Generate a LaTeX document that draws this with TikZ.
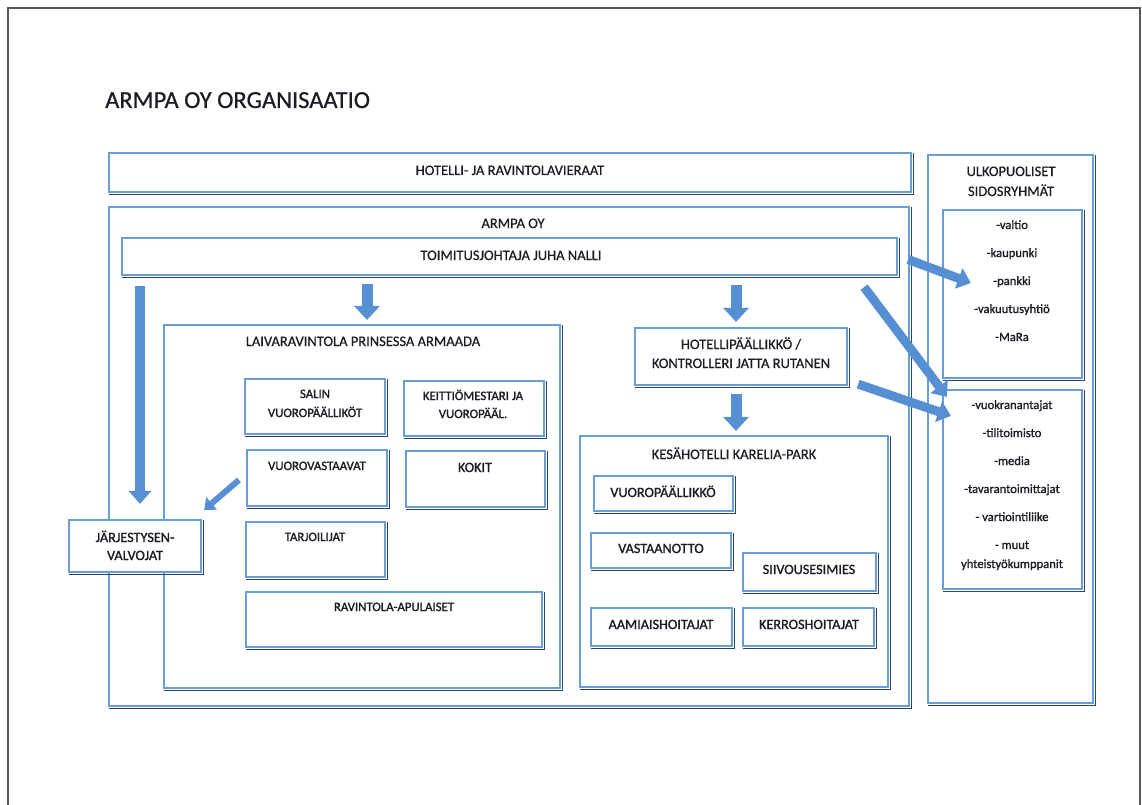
\documentclass[tikz,border=0pt]{standalone}
\usepackage{fontspec}
\setmainfont{Carlito}
\newfontfamily\hdfont{Carlito}[FakeBold=0.6]
\newfontfamily\hvfont{Carlito}[FakeBold=1.3]
\usetikzlibrary{arrows.meta,fit,calc}
\definecolor{boxblue}{RGB}{104,158,216}
\definecolor{shadowc}{RGB}{48,68,98}
\definecolor{arrowblue}{RGB}{86,143,210}
\definecolor{framec}{RGB}{88,88,88}
\definecolor{txt}{RGB}{28,28,38}
\tikzset{
  bx/.style={draw=boxblue, line width=2.2pt, fill=white, inner sep=0pt, rectangle},
  shd/.style={draw=shadowc, line width=1.6pt},
  lbl/.style={anchor=base, inner sep=0pt, text=txt, font=\hdfont\fontsize{14.5}{17}\selectfont},
  hv/.style={anchor=base, inner sep=0pt, text=txt, font=\hvfont\fontsize{14.2}{17}\selectfont},
  sml/.style={anchor=base, inner sep=0pt, text=txt, font=\hvfont\fontsize{12.8}{15}\selectfont},
  lst/.style={anchor=base, inner sep=0pt, text=txt, font=\hvfont\fontsize{12.6}{15}\selectfont},
  blk/.style={draw=arrowblue, line width=11pt, -{Triangle[width=25pt,length=14pt]}},
  blkl/.style={draw=arrowblue, line width=10pt, -{Triangle[width=22pt,length=13pt]}},
  blkd/.style={draw=arrowblue, line width=9pt, -{Triangle[width=21pt,length=13pt]}},
  blks/.style={draw=arrowblue, line width=6pt, -{Triangle[width=16pt,length=10pt]}},
}
\newcommand\bxx[5]{%
  \node[bx, fit={(#2,#3) (#4,#5)}] (#1) {};
  \draw[shd] ([xshift=1.5pt,yshift=-1pt]#1.north east) -- ([xshift=1.5pt,yshift=-1.5pt]#1.south east) -- ([xshift=1pt,yshift=-1.5pt]#1.south west);
}
\begin{document}
\begin{tikzpicture}[x=1pt,y=-1pt]
\useasboundingbox (0,0) rectangle (1142,805);
\fill[white] (0,0) rectangle (1142,805);
\draw[framec, line width=2pt] (8,805) -- (8,8) -- (1140,8) -- (1140,805);
\node[anchor=base west, inner sep=0pt, text=txt, font=\hdfont\fontsize{24.5}{28}\selectfont] (title) at (105,108) {ARMPA OY ORGANISAATIO};

\bxx{hot}{109}{153}{911}{192}
\bxx{ulko}{928}{155}{1093}{703}
\bxx{ul1}{943}{210}{1082}{378}
\bxx{ul2}{943}{390}{1082}{589}
\bxx{armpa}{109}{207}{909}{706}
\bxx{toimi}{122}{238}{897}{275}
\bxx{laiva}{164}{325}{560}{688}
\bxx{salin}{245}{379}{385}{434}
\bxx{keitt}{404}{381}{544}{436}
\bxx{vuorov}{247}{450}{387}{506}
\bxx{kokit}{406}{451}{545}{507}
\bxx{tarj}{246}{522}{385}{577}
\bxx{ravap}{246}{592}{542}{647}
\bxx{hotpaa}{635}{328}{847}{385}
\bxx{kesa}{580}{436}{888}{687}
\bxx{vuorop}{594}{476}{733}{511}
\bxx{vast}{591}{533}{731}{568}
\bxx{siiv}{743}{553}{876}{591}
\bxx{aam}{591}{608}{732}{646}
\bxx{kerr}{743}{608}{874}{646}
\bxx{jarj}{69}{520}{201}{572}

% arrows
\draw[blk] ($(toimi.south -| laiva.north)+(5,8)$) -- ($(laiva.north)+(5,-4)$);
\draw[blk] ($(toimi.south -| hotpaa.north)+(-5,9)$) -- ($(hotpaa.north)+(-5,-5)$);
\draw[blk] ($(hotpaa.south)+(-5,8)$) -- ($(kesa.north -| hotpaa.south)+(-5,-4)$);
\draw[blkl] ($(toimi.south -| jarj.north)+(5,10)$) -- ($(jarj.north)+(5,-15)$);
\draw[blks] ($(vuorov.west)+(-7,2)$) -- ($(jarj.north east)+(2,-9)$);
\draw[blkd] ($(toimi.east)+(10,3)$) -- ($(ul1.west)+(29,-11)$);
\draw[blkd] ($(toimi.south east)+(-34,11)$) -- ($(ul2.north west)+(5,8)$);
\draw[blkd] ($(hotpaa.south east)+(10,-2)$) -- ($(ul2.north west)+(9,27)$);

% texts
\node[lbl] (t-hot) at (510,175) {HOTELLI- JA RAVINTOLAVIERAAT};
\node[lbl] (t-armpa) at (513,228) {ARMPA OY};
\node[lbl] (t-toimi) at (511,260) {TOIMITUSJOHTAJA JUHA NALLI};
\node[lbl] (t-ulko1) at (1011,176) {ULKOPUOLISET};
\node[lbl] (t-ulko2) at (1011,196) {SIDOSRYHMÄT};
\node[lst] (t-valtio) at (1012,229) {-valtio};
\node[lst] (t-kaup) at (1012,257) {-kaupunki};
\node[lst] (t-pankki) at (1012,285) {-pankki};
\node[lst] (t-vakuu) at (1012,313) {-vakuutusyhtiö};
\node[lst] (t-mara) at (1012,341) {-MaRa};
\node[lst] (t-vuokr) at (1012,409) {-vuokranantajat};
\node[lst] (t-tili) at (1012,437) {-tilitoimisto};
\node[lst] (t-media) at (1012,465) {-media};
\node[lst] (t-tavar) at (1012,493) {-tavarantoimittajat};
\node[lst] (t-vart) at (1012,521) {- vartiointiliike};
\node[lst] (t-muut) at (1012,549) {- muut};
\node[lst] (t-yht) at (1012,568) {yhteistyökumppanit};
\node[lbl] (t-laiva) at (363,346) {LAIVARAVINTOLA PRINSESSA ARMAADA};
\node[sml] (t-salin1) at (315,398) {SALIN};
\node[sml] (t-salin2) at (315,417) {VUOROPÄÄLLIKÖT};
\node[sml] (t-keitt1) at (473,400) {KEITTIÖMESTARI JA};
\node[sml] (t-keitt2) at (473,418) {VUOROPÄÄL.};
\node[sml] (t-vuorov) at (317,470) {VUOROVASTAAVAT};
\node[hv] (t-kokit) at (475,472) {KOKIT};
\node[sml] (t-tarj) at (315,541) {TARJOILIJAT};
\node[sml] (t-ravap) at (394,611) {RAVINTOLA-APULAISET};
\node[hv] (t-jarj1) at (135,542) {JÄRJESTYSEN-};
\node[hv] (t-jarj2) at (135,560) {VALVOJAT};
\node[lbl] (t-hotpaa1) at (741,349) {HOTELLIPÄÄLLIKKÖ /};
\node[lbl] (t-hotpaa2) at (741,368) {KONTROLLERI JATTA RUTANEN};
\node[lbl] (t-kesa) at (734,459) {KESÄHOTELLI KARELIA-PARK};
\node[hv] (t-vuorop) at (663,497) {VUOROPÄÄLLIKKÖ};
\node[hv] (t-vast) at (661,553) {VASTAANOTTO};
\node[hv] (t-siiv) at (809,574) {SIIVOUSESIMIES};
\node[hv] (t-aam) at (661,629) {AAMIAISHOITAJAT};
\node[hv] (t-kerr) at (809,629) {KERROSHOITAJAT};
\end{tikzpicture}
\end{document}
